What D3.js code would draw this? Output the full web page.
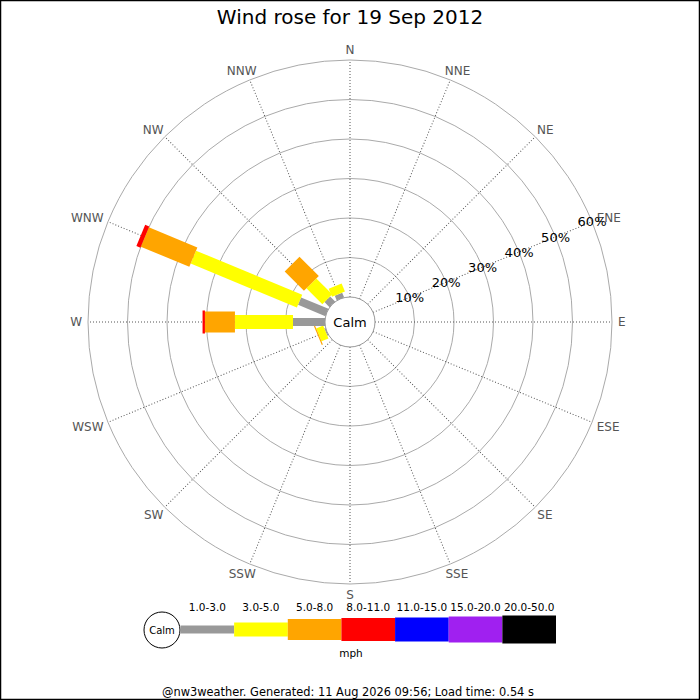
<!DOCTYPE html>
<html lang="en">
<head>
<meta charset="UTF-8">
<title>Wind rose</title>
<script src="https://d3js.org/d3.v7.min.js"></script>
<style>
  body { margin: 0; background: #fff; }
  text { font-family: "DejaVu Sans", sans-serif; }
</style>
</head>
<body>
<div id="chart"></div>
<script>
// compass points, clockwise from north
var directions = ["N", "NNE", "NE", "ENE", "E", "ESE", "SE", "SSE",
                  "S", "SSW", "SW", "WSW", "W", "WNW", "NW", "NNW"];
// speed bins (mph) and their colours
var speedBins = ["1.0-3.0", "3.0-5.0", "5.0-8.0", "8.0-11.0", "11.0-15.0", "15.0-20.0", "20.0-50.0"];
var binColors = ["#999999", "#ffff00", "#ffa500", "#ff0000", "#0000ff", "#a020f0", "#000000"];
// percentage of time per direction for each bin (N .. NNW)
var bin1 = [0, 0, 0, 0, 0, 0, 0, 0, 0, 0, 0, 0.3, 8.1, 7.5, 1.8, 1.3];
var bin2 = [0, 0, 0, 0, 0, 0, 0, 0, 0, 0, 0, 1.9, 14.7, 29.1, 5.7, 2.2];
var bin3 = [0, 0, 0, 0, 0, 0, 0, 0, 0, 0, 0, 0.3, 7.6, 13.3, 6.9, 0];
var bin4 = [0, 0, 0, 0, 0, 0, 0, 0, 0, 0, 0, 0, 0.6, 1.1, 0, 0];
var bin5 = [0, 0, 0, 0, 0, 0, 0, 0, 0, 0, 0, 0, 0, 0, 0, 0];
var bin6 = [0, 0, 0, 0, 0, 0, 0, 0, 0, 0, 0, 0, 0, 0, 0, 0];
var bin7 = [0, 0, 0, 0, 0, 0, 0, 0, 0, 0, 0, 0, 0, 0, 0, 0];
var series = [bin1, bin2, bin3, bin4, bin5, bin6, bin7];
var ringTicks = [10, 20, 30, 40, 50, 60];

var w = 700, h = 700,
    cx = 350, cy = 322,
    calmR = 25, outerR = 262;
var barWidths = [8, 14, 21, 23, 24, 26, 28];

var svg = d3.select("#chart").append("svg")
    .attr("width", w)
    .attr("height", h);

svg.append("rect")
    .attr("x", 0.5).attr("y", 0.5)
    .attr("width", w - 1).attr("height", h - 1)
    .attr("fill", "#fff")
    .attr("stroke", "#000")
    .attr("stroke-width", 1.5);

var r = d3.scaleLinear().domain([0, 60]).range([calmR, outerR]);
var angle = d3.scaleLinear().domain([0, directions.length]).range([0, 360]);

var g = svg.append("g").attr("transform", "translate(" + cx + "," + cy + ")");

// rings
g.selectAll("circle.ring")
    .data(ringTicks)
    .enter().append("circle")
    .attr("class", "ring")
    .attr("r", function(d) { return r(d); })
    .attr("fill", "none")
    .attr("stroke", "#aaa")
    .attr("stroke-width", 1);

// spokes
g.selectAll("line.spoke")
    .data(directions)
    .enter().append("line")
    .attr("class", "spoke")
    .attr("transform", function(d, i) { return "rotate(" + angle(i) + ")"; })
    .attr("x1", 0).attr("x2", 0)
    .attr("y1", -calmR).attr("y2", -outerR)
    .attr("stroke", "#555")
    .attr("stroke-width", 1)
    .attr("stroke-dasharray", "1,2");

// direction labels
function unit(i) {
    var a = angle(i) * Math.PI / 180;
    return [Math.sin(a), -Math.cos(a)];
}
var dirLabels = g.selectAll("text.dir")
    .data(directions)
    .enter().append("text")
    .attr("class", "dir")
    .attr("text-anchor", "middle")
    .attr("dy", "0.36em")
    .attr("font-size", 12)
    .attr("fill", "#555")
    .text(function(d) { return d; });
dirLabels.each(function(d, i) {
    var u = unit(i);
    var tw = this.getComputedTextLength();
    var x = u[0] * (outerR + 6) + u[0] * tw / 2;
    var y = u[1] * (outerR + 6) + u[1] * 4.5;
    d3.select(this).attr("x", x).attr("y", y);
});

// percentage labels along ENE
var labIdx = directions.indexOf("ENE");
g.selectAll("text.pct")
    .data(ringTicks)
    .enter().append("text")
    .attr("class", "pct")
    .attr("text-anchor", "middle")
    .attr("dy", "0.36em")
    .attr("font-size", 13)
    .attr("fill", "#000")
    .attr("x", function(d) { return unit(labIdx)[0] * r(d); })
    .attr("y", function(d) { return unit(labIdx)[1] * r(d); })
    .text(function(d) { return d + "%"; });

// bars: stack bins outward per direction
var segs = [];
directions.forEach(function(dir, i) {
    var cum = 0;
    series.forEach(function(s, b) {
        var v = s[i];
        if (v > 0) {
            segs.push({ dir: i, bin: b, p0: cum, p1: cum + v });
        }
        cum += v;
    });
});

g.selectAll("rect.seg")
    .data(segs)
    .enter().append("rect")
    .attr("class", "seg")
    .attr("transform", function(d) { return "rotate(" + angle(d.dir) + ")"; })
    .attr("x", function(d) { return -barWidths[d.bin] / 2; })
    .attr("width", function(d) { return barWidths[d.bin]; })
    .attr("y", function(d) { return -r(d.p1); })
    .attr("height", function(d) { return r(d.p1) - r(d.p0); })
    .attr("fill", function(d) { return binColors[d.bin]; });

// calm circle
g.append("circle")
    .attr("r", calmR)
    .attr("fill", "#fff")
    .attr("stroke", "#999")
    .attr("stroke-width", 1);
g.append("text")
    .attr("text-anchor", "middle")
    .attr("dy", "0.36em")
    .attr("font-size", 13)
    .text("Calm");

// title
svg.append("text")
    .attr("x", w / 2).attr("y", 24)
    .attr("text-anchor", "middle")
    .attr("font-size", 20)
    .text("Wind rose for 19 Sep 2012");

// legend
var legX = d3.scaleLinear().domain([0, speedBins.length]).range([180.5, 556]);
var legY = 629.5;
var leg = svg.append("g");
leg.append("circle")
    .attr("cx", 162).attr("cy", 630).attr("r", 18)
    .attr("fill", "#fff").attr("stroke", "#000");
leg.append("text")
    .attr("x", 162).attr("y", 630).attr("dy", "0.36em")
    .attr("text-anchor", "middle")
    .attr("font-size", 10)
    .text("Calm");
leg.selectAll("rect")
    .data(speedBins)
    .enter().append("rect")
    .attr("x", function(d, i) { return legX(i); })
    .attr("width", function(d, i) { return legX(i + 1) - legX(i); })
    .attr("y", function(d, i) { return legY - barWidths[i] / 2; })
    .attr("height", function(d, i) { return barWidths[i]; })
    .attr("fill", function(d, i) { return binColors[i]; });
leg.selectAll("text.bin")
    .data(speedBins)
    .enter().append("text")
    .attr("class", "bin")
    .attr("x", function(d, i) { return (legX(i) + legX(i + 1)) / 2; })
    .attr("y", 611)
    .attr("text-anchor", "middle")
    .attr("font-size", 10.5)
    .text(function(d) { return d; });
leg.append("text")
    .attr("x", 351).attr("y", 657)
    .attr("text-anchor", "middle")
    .attr("font-size", 10.5)
    .text("mph");

// footer
svg.append("text")
    .attr("x", 348).attr("y", 696)
    .attr("text-anchor", "middle")
    .attr("font-size", 11.4)
    .text("@nw3weather. Generated: 11 Aug 2026 09:56; Load time: 0.54 s");
</script>
</body>
</html>
